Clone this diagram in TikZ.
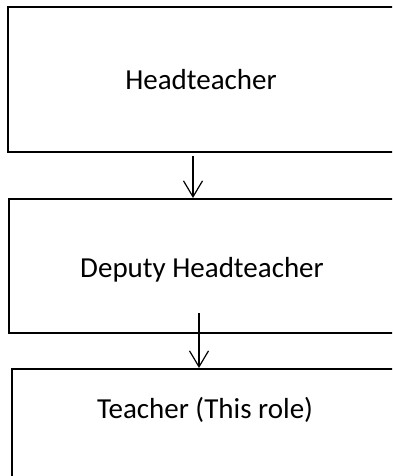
\documentclass[tikz,border=0pt]{standalone}
\usepackage{fontspec}
\setmainfont{Carlito}
\usetikzlibrary{arrows.meta}

\begin{document}
\begin{tikzpicture}[x = 1pt, y = -1pt, role/.style = {draw, line width = 2pt, minimum width = 386pt, inner sep = 0pt, font = \fontsize{29}{35}\selectfont}, link/.style = {line width = 1.2pt, -{Straight Barb[length = 16pt, width = 19pt]}}]
          \useasboundingbox (0,0) rectangle (392,476);
          \clip (0,0) rectangle (392,476);
          \node[role, minimum height = 145pt, text height = 83pt, text depth = 62pt] (head) at (201,79.5) {Headteacher};
          \node[role, minimum height = 134pt, text height = 78pt, text depth = 56pt] (deputy) at (202,266) {Deputy Headteacher};
          \node[role, anchor = north, minimum height = 200pt, text height = 49pt, text depth = 151pt] (teacher) at (205,368) {Teacher (This role)};
          \path[link] ([xshift = -8pt, yshift = -3pt]head.south) edge ([xshift = -9pt]deputy.north)
                      ([xshift = -3pt, yshift = 21pt]deputy.south) edge ([xshift = -6pt]teacher.north);
        \end{tikzpicture}
\end{document}
